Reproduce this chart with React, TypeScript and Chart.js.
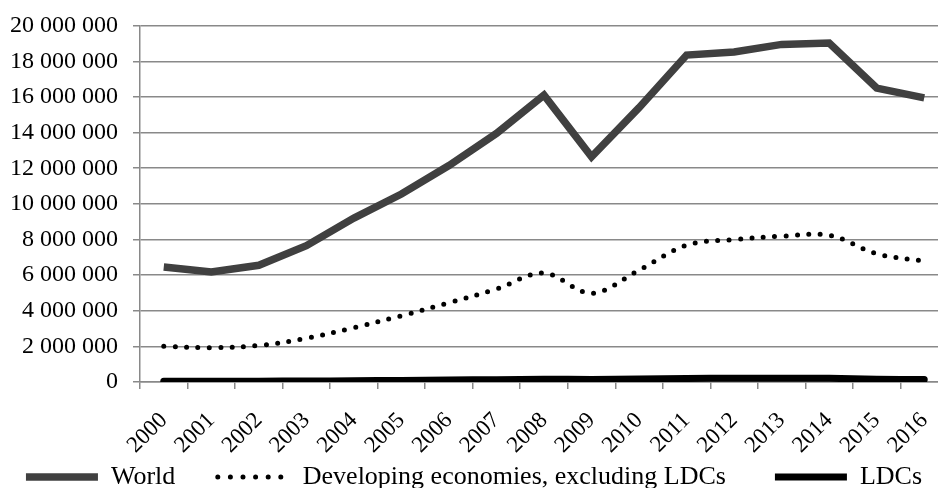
import React, { useEffect, useRef } from 'react';
import { Chart, registerables } from 'chart.js';
Chart.register(...registerables);

const years = ['2000', '2001', '2002', '2003', '2004', '2005', '2006', '2007', '2008', '2009', '2010', '2011', '2012', '2013', '2014', '2015', '2016'];
const world = [6460000, 6180000, 6550000, 7650000, 9200000, 10550000, 12150000, 13950000, 16100000, 12640000, 15400000, 18350000, 18520000, 18950000, 19030000, 16500000, 15950000];
const developing = [2000000, 1930000, 2050000, 2450000, 3050000, 3720000, 4450000, 5220000, 6120000, 4980000, 6280000, 7680000, 8000000, 8180000, 8240000, 7200000, 6780000];
const ldcs = [40000, 40000, 45000, 55000, 70000, 90000, 110000, 130000, 160000, 140000, 170000, 200000, 210000, 215000, 210000, 150000, 140000];
const seriesNames = ['World', 'Developing economies, excluding LDCs', 'LDCs'];
const legendTrail = [5, 6, 0];

const FONT = '"Liberation Serif", "Times New Roman", serif';
const GRID = '#898989';

export default function App() {
  const ref = useRef<HTMLCanvasElement | null>(null);
  useEffect(() => {
    document.body.style.margin = '0';
    document.body.style.overflow = 'hidden';
    const canvas = ref.current;
    if (!canvas) return;
    const chart = new Chart(canvas, {
      type: 'line',
      data: {
        labels: years,
        datasets: [
          {
            label: seriesNames[0],
            data: world,
            borderColor: '#404040',
            backgroundColor: '#404040',
            borderWidth: 7.5,
            pointRadius: 0,
            tension: 0,
            borderCapStyle: 'butt',
            borderJoinStyle: 'miter',
          },
          {
            label: seriesNames[1],
            data: developing,
            borderColor: '#000000',
            backgroundColor: '#000000',
            borderWidth: 5,
            borderDash: [0, 11.4],
            borderCapStyle: 'round',
            pointRadius: 0,
            tension: 0.35,
          },
          {
            label: seriesNames[2],
            data: ldcs,
            borderColor: '#000000',
            backgroundColor: '#000000',
            borderWidth: 7,
            pointRadius: 0,
            tension: 0.3,
            borderCapStyle: 'round',
          },
        ],
      },
      options: {
        responsive: false,
        animation: false,
        layout: { padding: { top: 25.7, right: 2, left: 0, bottom: 0 } },
        plugins: {
          tooltip: { enabled: false },
          legend: {
            position: 'bottom',
            labels: {
              usePointStyle: true,
              pointStyle: 'line',
              pointStyleWidth: 72,
              padding: 10,
              color: '#000',
              font: { family: FONT, size: 26 },
              generateLabels: (c: any) => {
                const items = Chart.defaults.plugins.legend.labels.generateLabels(c);
                items.forEach((it: any, i: number) => {
                  const ds: any = c.data.datasets[it.datasetIndex];
                  it.text = it.text + ' '.repeat(legendTrail[i]);
                  it.lineWidth = ds.borderWidth;
                  it.strokeStyle = ds.borderColor;
                  it.lineDash = ds.borderDash ? [0, 12.6] : [];
                  it.lineCap = ds.borderDash ? 'round' : 'butt';
                });
                return items;
              },
            },
          },
        },
        scales: {
          x: {
            type: 'category',
            offset: true,
            grid: {
              offset: true,
              drawOnChartArea: false,
              drawTicks: true,
              tickLength: 7,
              color: GRID,
              lineWidth: 1.5,
            },
            border: { color: GRID, width: 1.5 },
            ticks: {
              autoSkip: false,
              minRotation: 45,
              maxRotation: 45,
              padding: 18,
              color: '#000',
              font: { family: FONT, size: 23 },
            },
            afterFit: (s: any) => {
              s.height = 72;
              s.paddingLeft = 0;
              s.paddingRight = 0;
            },
          },
          y: {
            min: 0,
            max: 20000000,
            grid: { color: GRID, lineWidth: 1.5, tickLength: 7 },
            border: { color: GRID, width: 1.5 },
            ticks: {
              stepSize: 2000000,
              padding: 15,
              color: '#000',
              font: { family: FONT, size: 24 },
              callback: (v: any) => Number(v).toLocaleString('en-US').replace(/,/g, ' '),
            },
            afterFit: (s: any) => {
              s.width = 140;
              s.paddingTop = 0;
              s.paddingBottom = 0;
            },
          },
        },
      },
    });
    return () => chart.destroy();
  }, []);
  return (
    <div style={{ width: 938, height: 488, overflow: 'hidden', background: '#fff' }}>
      <canvas ref={ref} width={950} height={500} style={{ display: 'block' }} />
    </div>
  );
}
